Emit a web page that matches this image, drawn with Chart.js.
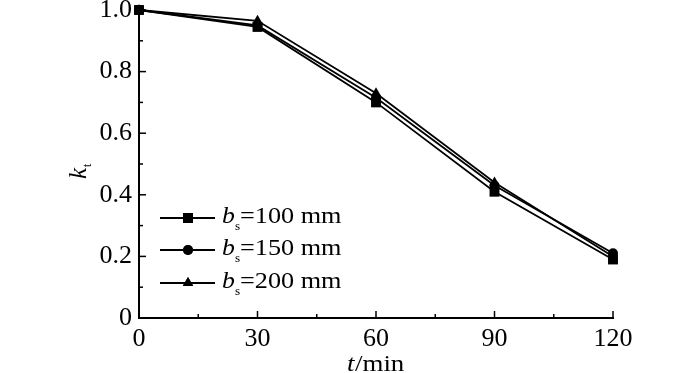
<!DOCTYPE html>
<html><head><meta charset="utf-8">
<script src="https://cdn.jsdelivr.net/npm/chart.js@4"></script>
<style>html,body{margin:0;padding:0;background:#fff}#wrap{width:700px;height:373px}</style>
</head><body><div id="wrap"><canvas id="c"></canvas></div>
<script>
const categories = [0, 30, 60, 90, 120];
const bs100 = [1.0, 0.945, 0.700, 0.410, 0.190];
const bs150 = [1.0, 0.950, 0.715, 0.430, 0.210];
const bs200 = [1.0, 0.965, 0.730, 0.440, 0.200];
const seriesLabels = ['100 mm', '150 mm', '200 mm'];
const yTicks = [0, 0.2, 0.4, 0.6, 0.8, 1.0];
const xTicks = [0, 30, 60, 90, 120];

const FONT = '"Liberation Serif", "Times New Roman", serif';
const styles = ['rect', 'circle', 'triangle'];
const radii = [7, 5, 6];
const all = [bs100, bs150, bs200];

const datasets = all.map((d, i) => ({
  label: seriesLabels[i],
  data: categories.map((x, j) => ({x: x, y: d[j]})),
  borderColor: '#000', backgroundColor: '#000',
  borderWidth: 1.8, pointStyle: styles[i], pointRadius: radii[i],
  pointBorderWidth: 0, tension: 0, clip: false
}));

function stretchText(ctx, txt, x, y, font, sx) {
  ctx.save();
  ctx.translate(x, y); ctx.scale(sx, 1);
  ctx.font = font; ctx.fillText(txt, 0, 0);
  ctx.restore();
}

const decor = {
  id: 'decor',
  afterDraw(chart) {
    const ctx = chart.ctx, xs = chart.scales.x, ys = chart.scales.y;
    const L = xs.getPixelForValue(0), B = ys.getPixelForValue(0);
    ctx.save();
    ctx.strokeStyle = '#000'; ctx.lineWidth = 2;
    ctx.beginPath();
    ctx.moveTo(L, ys.getPixelForValue(1.0) - 1); ctx.lineTo(L, B);
    ctx.lineTo(xs.getPixelForValue(120) + 1, B); ctx.stroke();
    ctx.lineWidth = 1.5;
    for (let v = 0; v <= 10; v++) {
      const y = ys.getPixelForValue(v / 10);
      const len = v % 2 === 0 ? 7 : 4;
      ctx.beginPath(); ctx.moveTo(L, y); ctx.lineTo(L + len, y); ctx.stroke();
    }
    for (let v = 0; v <= 120; v += 15) {
      const x = xs.getPixelForValue(v);
      const len = v % 30 === 0 ? 7 : 4;
      ctx.beginPath(); ctx.moveTo(x, B); ctx.lineTo(x, B - len); ctx.stroke();
    }
    // legend
    const rowsY = [218, 250, 283];
    ctx.fillStyle = '#000';
    ctx.textBaseline = 'alphabetic'; ctx.textAlign = 'left';
    rowsY.forEach((ry, i) => {
      ctx.lineWidth = 2;
      ctx.beginPath(); ctx.moveTo(160, ry); ctx.lineTo(215, ry); ctx.stroke();
      Chart.helpers.drawPoint(ctx, {pointStyle: styles[i], radius: radii[i], borderWidth: 0}, 188, ry);
      ctx.fill();
      stretchText(ctx, 'b', 222, ry + 5, 'italic 23px ' + FONT, 1.12);
      stretchText(ctx, 's', 235, ry + 12, '12px ' + FONT, 1.1);
      stretchText(ctx, '=' + seriesLabels[i], 240, ry + 5, '23px ' + FONT, 1.14);
    });
    // y title
    ctx.save();
    ctx.translate(86, 172); ctx.rotate(-Math.PI / 2);
    ctx.font = 'italic 25px ' + FONT; ctx.textAlign = 'left';
    ctx.fillText('k', -7, 0);
    ctx.font = '12px ' + FONT;
    ctx.fillText('t', 5, 5);
    ctx.restore();
    // x title
    stretchText(ctx, 't', 347, 371, 'italic 24px ' + FONT, 1.12);
    stretchText(ctx, '/min', 355, 371, '24px ' + FONT, 1.12);
    ctx.restore();
  }
};

new Chart(document.getElementById('c'), {
  type: 'line',
  data: {datasets},
  options: {
    responsive: true, maintainAspectRatio: false, animation: false,
    layout: {padding: {left: 0, right: 87, top: 10, bottom: 0}},
    plugins: {legend: {display: false}, tooltip: {enabled: false}},
    scales: {
      x: {
        type: 'linear', min: 0, max: 120,
        afterBuildTicks: s => { s.ticks = xTicks.map(v => ({value: v})); },
        afterFit: s => { s.height = 55; },
        grid: {display: false, drawTicks: false}, border: {display: false},
        ticks: {color: '#000', padding: 8, maxRotation: 0, font: {family: FONT, size: 26, lineHeight: 1}}
      },
      y: {
        type: 'linear', min: 0, max: 1.0,
        afterBuildTicks: s => { s.ticks = yTicks.map(v => ({value: v})); },
        afterFit: s => { s.width = 139; },
        grid: {display: false, drawTicks: false}, border: {display: false},
        ticks: {color: '#000', padding: 7, font: {family: FONT, size: 26, lineHeight: 0.01},
          callback: v => v === 0 ? '0' : v.toFixed(1)}
      }
    }
  },
  plugins: [decor]
});
</script></body></html>
